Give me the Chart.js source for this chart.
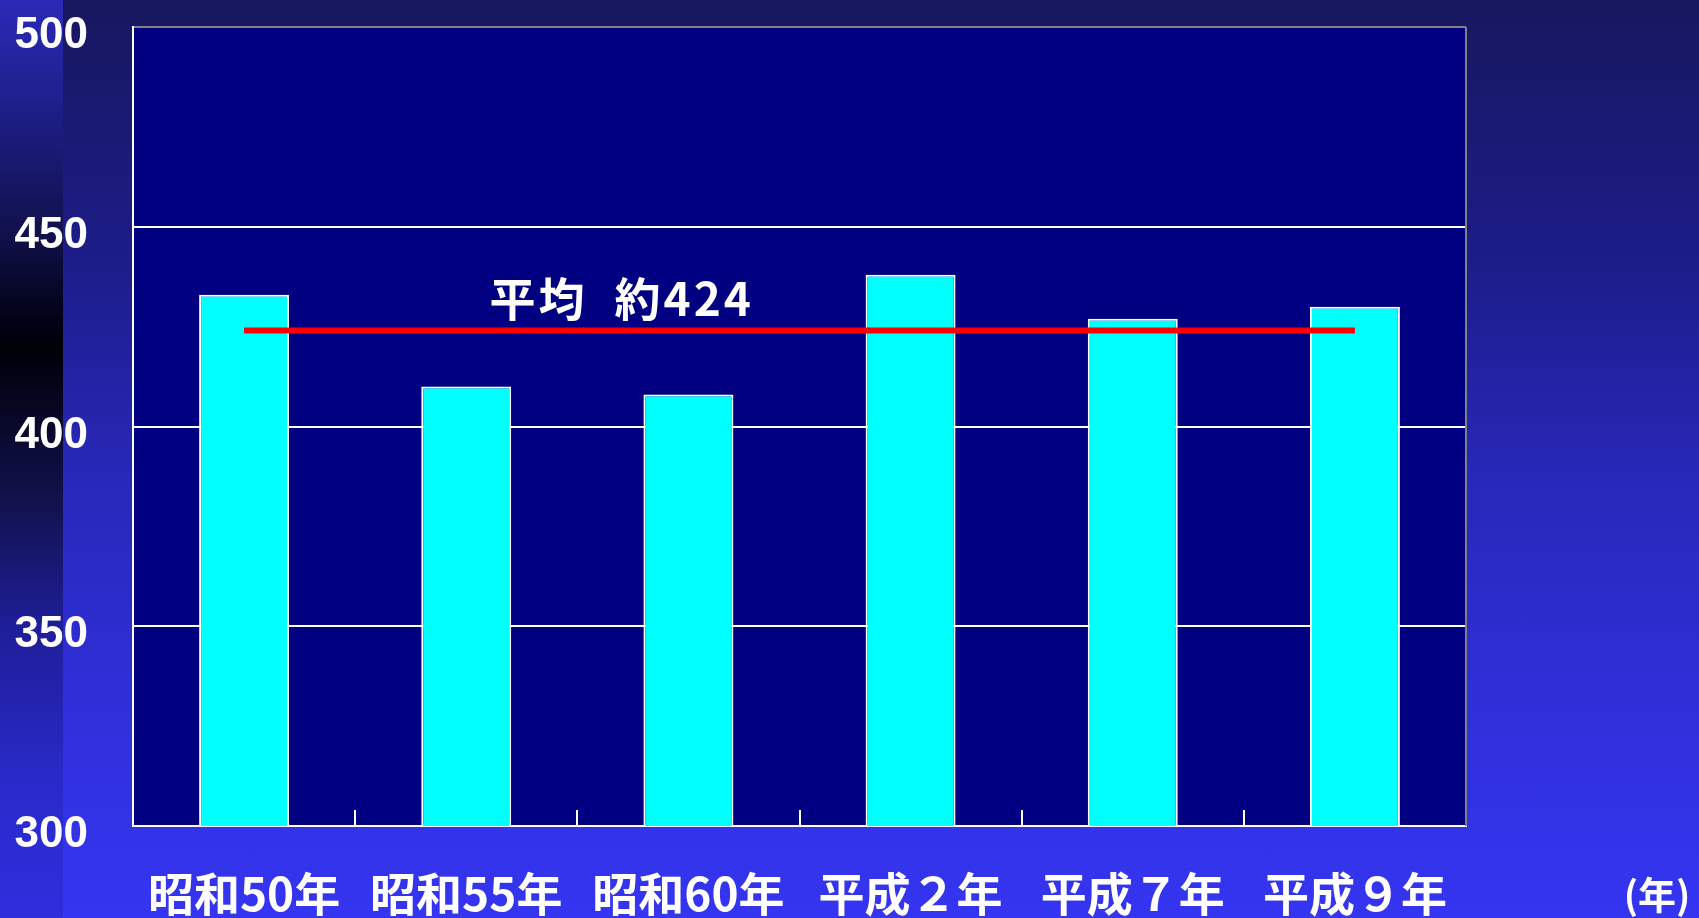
<!DOCTYPE html>
<html lang="ja">
<head>
<meta charset="utf-8">
<title>平均 約424</title>
<script src="https://cdn.jsdelivr.net/npm/chart.js@4.4.0/dist/chart.umd.min.js"></script>
<style>
  html, body { margin: 0; padding: 0; }
  body {
    width: 1699px;
    height: 918px;
    overflow: hidden;
    position: relative;
    background: linear-gradient(to bottom, #17175f 0%, #1d1d8c 30%, #2727b6 50%, #2f2fd8 75%, #3535f2 100%);
  }
  /* darker strip down the left edge of the slide */
  #strip {
    position: absolute; left: 0; top: 0; width: 63px; height: 918px;
    background: linear-gradient(to bottom, #2a2ab8 0%, #1c1c80 14%, #10104a 26%, #03031a 34%, #000008 38%, #08082a 46%, #121250 55%, #1e1e98 68%, #2a2acc 86%, #2e2ede 100%);
  }
  #chartBox { position: absolute; left: 0; top: 0; }
</style>
</head>
<body>
<div id="strip"></div>
<canvas id="chartBox" width="1699" height="918"></canvas>
<script>
// categories and values
const categories = ['昭和50年', '昭和55年', '昭和60年', '平成２年', '平成７年', '平成９年'];
const values = [433, 410, 408, 438, 427, 430];
const averageLine = [424, 424, 424, 424, 424, 424];
const yTickValues = [300, 350, 400, 450, 500];
const averageLabel = '平均  約424';
const unitLabel = '(年)';

const jpFont = '"Noto Sans CJK JP", "Noto Sans", sans-serif';

// draws the navy plot area, the grey right edge, the small inner ticks and the texts
const plotPlugin = {
    id: 'plotPlugin',
    beforeDraw(chart) {
        const { ctx, chartArea } = chart;
        ctx.save();
        ctx.fillStyle = '#000080';
        ctx.fillRect(chartArea.left, chartArea.top, chartArea.right - chartArea.left, chartArea.bottom - chartArea.top);
        ctx.restore();
    },
    afterDraw(chart) {
        const { ctx, chartArea, scales } = chart;
        const xScale = scales.x;
        const yScale = scales.y;
        ctx.save();

        // grey right edge of the frame
        ctx.strokeStyle = '#808080';
        ctx.lineWidth = 2;
        ctx.beginPath();
        ctx.moveTo(chartArea.right, chartArea.top);
        ctx.lineTo(chartArea.right, chartArea.bottom);
        ctx.stroke();

        // short ticks between categories, pointing up from the axis
        ctx.strokeStyle = '#ffffff';
        for (let i = 1; i < categories.length; i++) {
            const x = Math.round(xScale.getPixelForValue(i - 0.5));
            ctx.beginPath();
            ctx.moveTo(x, chartArea.bottom);
            ctx.lineTo(x, chartArea.bottom - 16);
            ctx.stroke();
        }

        // label for the average line
        ctx.fillStyle = '#ffffff';
        ctx.font = 'bold 46px ' + jpFont;
        ctx.textAlign = 'center';
        ctx.textBaseline = 'middle';
        ctx.letterSpacing = '3px';
        ctx.fillText(averageLabel, xScale.getPixelForValue(1.7), yScale.getPixelForValue(averageLine[0]) - 32);
        ctx.letterSpacing = '0px';

        // unit label at the right end of the x axis
        ctx.font = 'bold 38px ' + jpFont;
        ctx.fillText(unitLabel, 1657, 895);
        ctx.restore();
    }
};

const ctx = document.getElementById('chartBox').getContext('2d');
const myChart = new Chart(ctx, {
    type: 'bar',
    data: {
        labels: categories,
        datasets: [
            {
                type: 'line',
                label: '平均',
                data: averageLine,
                borderColor: '#ff0000',
                borderWidth: 6,
                borderCapStyle: 'butt',
                pointRadius: 0,
                fill: false,
                order: 0
            },
            {
                label: '値',
                data: values,
                backgroundColor: '#00ffff',
                borderColor: '#ffffff',
                borderWidth: 2,
                barPercentage: 0.405,
                categoryPercentage: 1,
                order: 1
            }
        ]
    },
    options: {
        responsive: false,
        animation: false,
        devicePixelRatio: 1,
        layout: { padding: { top: 27, right: 233, left: 0, bottom: 0 } },
        plugins: {
            legend: { display: false },
            tooltip: { enabled: false }
        },
        scales: {
            x: {
                offset: true,
                grid: { drawOnChartArea: false, drawTicks: false },
                border: { color: '#ffffff', width: 2 },
                ticks: {
                    color: '#ffffff',
                    font: { family: jpFont, size: 46, weight: 'bold' },
                    padding: 40,
                    maxRotation: 0,
                    autoSkip: false
                },
                afterFit(scale) {
                    scale.height = 92;
                    scale.paddingLeft = 0;
                    scale.paddingRight = 0;
                    scale.paddingTop = 0;
                    scale.paddingBottom = 0;
                }
            },
            y: {
                min: 300,
                max: 500,
                afterBuildTicks(scale) {
                    scale.ticks = yTickValues.map(v => ({ value: v }));
                },
                grid: {
                    color: c => (c.tick && c.tick.value === 500 ? '#808080' : '#ffffff'),
                    lineWidth: 2,
                    drawTicks: false
                },
                border: { color: '#ffffff', width: 2 },
                ticks: {
                    color: '#ffffff',
                    font: { family: '"Liberation Sans", Arial, sans-serif', size: 44, weight: 'bold' },
                    padding: 45,
                    labelOffset: 9
                },
                afterFit(scale) {
                    scale.width = 133;
                    scale.paddingTop = 0;
                    scale.paddingBottom = 0;
                }
            }
        }
    },
    plugins: [plotPlugin]
});
</script>
</body>
</html>
